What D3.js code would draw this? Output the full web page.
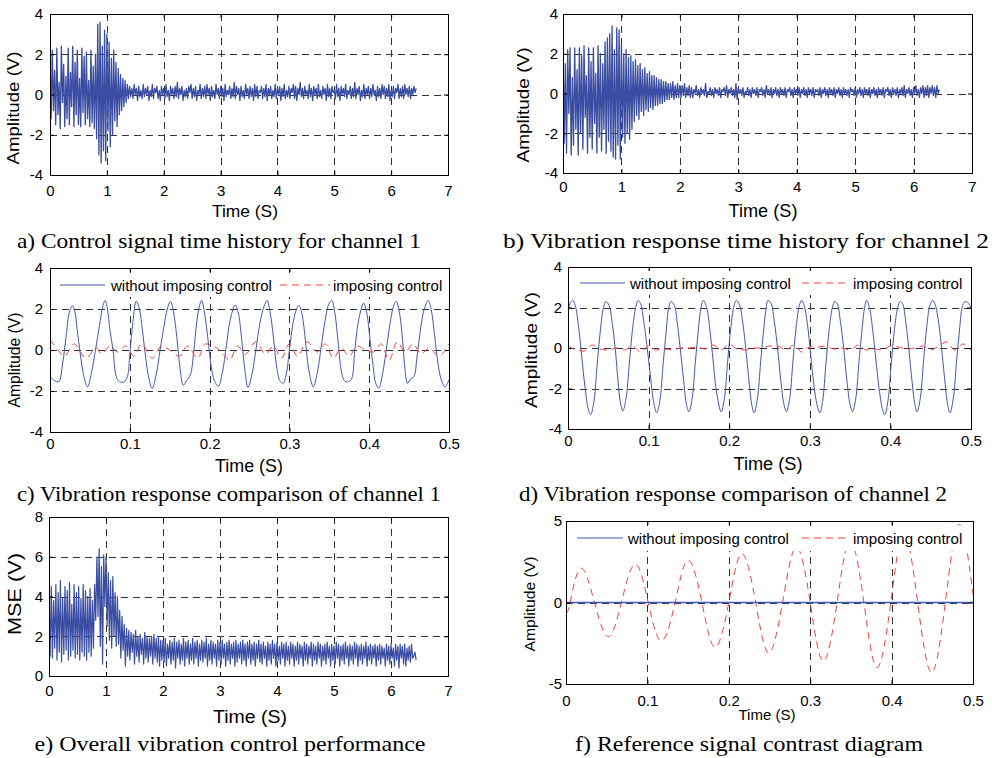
<!DOCTYPE html>
<html>
<head>
<meta charset="utf-8">
<script src="https://cdn.jsdelivr.net/npm/d3@7"></script>
<style>
  body { margin: 0; background: #fff; }
  svg { display: block; background: #fff; }
</style>
</head>
<body>
<svg width="992" height="758"></svg>
<script>
// ---------------- data ----------------
var dtSignal = 0.02; // step between samples of the long records (s)

// a) control signal of channel 1
var ch1Control = [
  1.8,-1.2,2.2,-0.8,1.2,-1.5,2.3,-1.0,0.6,-1.7,
  2.4,-0.4,1.5,-1.6,0.9,-1.2,2.3,-1.5,1.1,-0.6,
  2.4,-1.6,1.6,-1.0,2.2,-1.5,0.8,-1.6,2.3,-0.9,
  1.9,-1.5,2.1,-1.2,0.7,-1.6,2.2,-1.4,1.4,-1.7,
  2.0,-2.2,3.5,-3.0,3.6,-3.4,2.4,-2.8,3.2,-3.3,
  3.0,-1.8,2.6,-2.6,1.8,-2.0,2.2,-1.3,1.6,-1.6,
  1.3,-1.0,1.0,-0.8,0.8,-0.6,0.7,-0.4,0.5,-0.2,
  0.4,-0.1,0.3,-0.2,0.5,0.0,0.3,-0.3,0.4,-0.1,
  0.2,-0.2,0.5,-0.1,0.3,0.0,0.4,-0.3,0.2,-0.1,
  0.5,-0.2,0.3,0.1,0.4,-0.2,0.2,-0.3,0.4,0.0,
  0.3,-0.2,0.5,-0.1,0.2,-0.3,0.4,0.0,0.3,-0.2,
  0.4,-0.1,0.6,-0.2,0.3,0.0,0.4,-0.3,0.2,-0.1,
  0.3,-0.2,0.4,0.1,0.5,-0.2,0.3,-0.1,0.4,-0.3,
  0.2,0.0,0.5,-0.2,0.3,-0.1,0.4,-0.2,0.5,0.0,
  0.3,-0.3,0.4,-0.1,0.2,-0.2,0.5,0.0,0.3,-0.2,
  0.4,-0.1,0.3,-0.3,0.5,-0.1,0.2,0.0,0.4,-0.2,
  0.3,-0.1,0.6,-0.2,0.4,0.0,0.3,-0.3,0.4,-0.1,
  0.2,-0.2,0.5,0.0,0.3,-0.2,0.4,-0.1,0.3,-0.3,
  0.5,-0.1,0.4,-0.2,0.2,0.1,0.4,-0.2,0.3,-0.1,
  0.5,-0.3,0.3,0.0,0.4,-0.2,0.2,-0.1,0.5,-0.2,
  0.3,0.0,0.4,-0.3,0.3,-0.1,0.5,-0.2,0.2,-0.1,
  0.4,-0.2,0.3,0.1,0.5,-0.2,0.4,-0.3,0.3,0.0,
  0.6,-0.1,0.3,-0.2,0.4,0.0,0.2,-0.2,0.5,-0.1,
  0.3,-0.3,0.4,0.0,0.3,-0.2,0.5,-0.1,0.2,-0.2,
  0.4,0.0,0.3,-0.3,0.5,-0.1,0.3,-0.2,0.4,0.1,
  0.2,-0.2,0.5,-0.1,0.3,-0.3,0.4,0.0,0.3,-0.1,
  0.5,-0.2,0.2,0.0,0.4,-0.2,0.3,-0.1,0.6,-0.2,
  0.3,0.0,0.4,-0.3,0.2,-0.1,0.5,-0.2,0.3,0.0,
  0.4,-0.2,0.3,-0.1,0.5,0.0,0.2,-0.3,0.4,-0.1,
  0.3,-0.2,0.5,0.0,0.4,-0.2,0.3,-0.1,0.5,-0.3,
  0.2,-0.1,0.4,-0.2,0.3,0.1,0.5,-0.2,0.3,-0.1,
  0.4,-0.2,0.5,0.0,0.3,-0.1,0.4,-0.2,0.3,0.0,
  0.4,0.1,0.3
];

// b) vibration response of channel 2
var ch2Response = [
  2.3,-2.5,1.5,-3.0,2.2,-1.0,2.3,-3.1,0.8,-2.6,
  2.3,-1.8,1.2,-3.1,2.3,-2.0,1.9,-2.8,2.4,-1.2,
  0.9,-3.0,2.3,-2.2,1.6,-2.8,2.3,-1.5,1.0,-3.0,
  2.4,-2.2,2.0,-2.9,1.5,-1.8,2.6,-3.0,2.8,-2.4,
  3.0,-2.9,3.4,-3.2,2.2,-3.3,3.3,-2.6,3.2,-3.3,
  2.5,-2.2,2.0,-2.5,2.2,-2.0,1.8,-2.3,1.9,-1.8,
  1.6,-1.4,1.7,-1.1,1.4,-1.3,1.5,-0.9,1.2,-1.1,
  1.3,-0.8,1.0,-0.9,1.1,-0.7,0.9,-0.8,0.9,-0.6,
  0.8,-0.6,0.7,-0.5,0.7,-0.5,0.6,-0.4,0.6,-0.3,
  0.5,-0.3,0.5,-0.2,0.6,-0.3,0.4,-0.2,0.5,-0.2,
  0.4,-0.2,0.4,-0.1,0.5,-0.2,0.3,-0.1,0.4,-0.2,
  0.3,-0.2,0.2,0.0,0.4,-0.1,0.2,-0.2,0.3,0.0,
  0.2,-0.1,0.5,-0.2,0.1,0.0,0.3,-0.1,0.2,-0.2,
  0.3,0.0,0.2,-0.1,0.3,-0.2,0.2,0.1,0.3,-0.1,
  0.4,-0.2,0.2,0.0,0.3,-0.1,0.2,-0.2,0.5,-0.3,
  0.3,0.0,0.2,-0.1,0.3,-0.2,0.1,0.0,0.3,-0.1,
  0.2,-0.2,0.3,0.0,0.2,-0.1,0.3,-0.2,0.2,0.1,
  0.3,-0.1,0.2,-0.2,0.4,0.0,0.2,-0.1,0.3,-0.2,
  0.2,0.0,0.3,-0.1,0.2,-0.2,0.3,0.0,0.2,-0.1,
  0.3,-0.2,0.2,0.1,0.3,-0.1,0.2,-0.2,0.3,0.0,
  0.2,-0.1,0.3,-0.2,0.2,0.0,0.3,-0.1,0.2,-0.2,
  0.3,0.0,0.2,-0.1,0.3,-0.2,0.2,0.1,0.2,-0.1,
  0.3,-0.2,0.2,0.0,0.3,-0.1,0.2,-0.2,0.3,0.0,
  0.2,-0.1,0.3,-0.2,0.2,0.0,0.3,-0.1,0.2,-0.2,
  0.3,0.0,0.2,-0.1,0.2,-0.2,0.3,0.1,0.2,-0.1,
  0.3,-0.2,0.2,0.0,0.3,-0.1,0.2,-0.2,0.3,0.0,
  0.2,-0.1,0.3,-0.2,0.2,0.0,0.3,-0.1,0.2,-0.2,
  0.3,0.0,0.2,-0.1,0.3,-0.2,0.2,0.1,0.3,-0.1,
  0.2,-0.2,0.3,0.0,0.2,-0.1,0.3,-0.2,0.2,0.0,
  0.3,-0.1,0.4,-0.2,0.2,0.0,0.3,-0.1,0.2,-0.2,
  0.3,0.0,0.4,-0.1,0.2,-0.2,0.3,0.0,0.4,-0.2,
  0.3,-0.1,0.4,-0.2,0.3,0.0,0.4,-0.1,0.3,-0.2,
  0.4,0.0,0.2
];

// e) overall vibration control performance (MSE)
var overallMSE = [
  4.1,1.0,4.5,0.9,3.8,1.4,4.6,0.8,4.2,1.2,
  4.8,0.7,3.9,1.1,4.5,1.3,4.3,0.8,4.7,1.0,
  3.6,1.3,4.6,0.9,4.2,1.1,4.5,0.8,3.9,1.2,
  4.6,1.0,4.3,0.8,4.0,1.2,4.4,1.0,3.8,1.4,
  4.6,2.8,6.0,3.0,6.4,1.5,5.5,0.6,6.1,3.5,
  6.0,2.5,5.2,1.8,4.8,1.4,5.0,2.0,4.2,1.5,
  4.0,1.6,3.3,0.9,3.0,1.3,2.6,0.5,2.4,1.0,
  2.3,0.8,2.2,1.2,2.1,0.6,2.3,1.0,2.0,0.7,
  2.1,1.1,1.9,0.6,2.2,0.9,2.0,0.7,1.9,1.0,
  2.0,0.6,2.1,0.9,1.9,0.7,2.0,0.5,1.8,0.8,
  1.8,0.7,1.9,0.5,1.6,0.9,1.8,0.6,1.7,0.8,
  1.9,0.4,1.7,0.9,1.8,0.6,1.6,0.8,1.9,0.5,
  1.7,0.9,1.8,0.6,1.6,0.8,1.9,0.6,1.7,0.9,
  1.8,0.5,1.6,0.8,1.8,0.7,1.7,0.9,1.9,0.5,
  1.6,0.8,1.8,0.6,1.7,0.9,1.6,0.5,1.8,0.8,
  1.7,0.6,1.8,0.9,1.6,0.5,1.7,0.8,1.8,0.6,
  1.6,0.9,1.7,0.5,1.8,0.7,1.6,0.9,1.7,0.6,
  1.8,0.8,1.6,0.5,1.7,0.9,1.8,0.6,1.6,0.8,
  1.7,0.5,1.6,0.9,1.8,0.7,1.6,0.6,1.7,0.9,
  1.5,0.5,1.7,0.8,1.6,0.6,1.8,0.9,1.6,0.5,
  1.7,0.8,1.5,0.6,1.7,0.9,1.6,0.5,1.7,0.8,
  1.5,0.6,1.7,0.9,1.6,0.5,1.5,0.8,1.7,0.6,
  1.6,0.9,1.5,0.5,1.7,0.8,1.6,0.6,1.5,0.9,
  1.7,0.5,1.6,0.8,1.5,0.6,1.7,0.9,1.6,0.5,
  1.5,0.8,1.6,0.6,1.7,0.9,1.5,0.5,1.6,0.8,
  1.5,0.6,1.7,0.9,1.6,0.5,1.5,0.8,1.6,0.6,
  1.7,0.9,1.5,0.5,1.6,0.8,1.5,0.6,1.7,0.9,
  1.6,0.5,1.5,0.8,1.6,0.6,1.5,0.9,1.7,0.5,
  1.5,0.8,1.6,0.6,1.5,0.9,1.6,0.5,1.5,0.8,
  1.6,0.6,1.5,0.9,1.4,0.5,1.6,0.8,1.5,0.6,
  1.6,0.9,1.4,0.5,1.6,0.8,1.5,0.4,1.6,0.9,
  1.5,0.6,1.6,0.5,1.4,0.8,1.5,0.7,1.6,0.9,
  1.0,1.2,0.8
];

// c) channel 1 comparison, [time, amplitude]
var c1Without = [
  [0,-1.3],[0.006,-1.5],[0.011,-1.55],[0.016,-0.6],[0.020,0.6],[0.024,1.8],[0.028,2.16],[0.031,1.9],[0.034,1.0],[0.038,-0.2],[0.042,-1.2],[0.047,-1.8],
  [0.052,-1.1],[0.057,0.0],[0.062,1.2],[0.066,2.1],[0.069,2.42],[0.072,2.0],[0.075,1.0],[0.079,0.0],[0.083,-1.3],[0.087,-1.55],[0.093,-1.55],[0.097,-1.3],
  [0.100,-0.2],[0.104,1.4],[0.108,2.37],[0.112,2.0],[0.116,0.9],[0.120,-0.4],[0.124,-1.4],[0.128,-1.88],
  [0.133,-1.2],[0.138,0.0],[0.143,1.2],[0.147,2.0],[0.151,2.37],[0.155,1.8],[0.159,0.6],[0.163,-0.9],[0.167,-1.72],[0.171,-1.5],[0.176,-1.2],
  [0.180,-0.1],[0.184,1.4],[0.187,2.1],[0.190,2.42],[0.194,1.7],[0.198,0.5],[0.202,-0.8],[0.206,-1.5],[0.211,-1.77],
  [0.216,-1.1],[0.221,0.2],[0.226,1.5],[0.232,2.2],[0.236,1.8],[0.240,0.6],[0.244,-0.9],[0.248,-1.83],
  [0.253,-1.2],[0.258,0.0],[0.263,1.3],[0.268,2.1],[0.272,2.42],[0.276,1.8],[0.280,0.6],[0.284,-0.8],[0.288,-1.5],[0.292,-1.63],[0.296,-1.2],
  [0.300,0.0],[0.305,1.4],[0.309,2.0],[0.312,2.18],[0.316,1.7],[0.320,0.5],[0.324,-0.9],[0.330,-1.8],
  [0.335,-1.1],[0.340,0.2],[0.345,1.5],[0.349,2.2],[0.353,2.42],[0.357,1.8],[0.361,0.4],[0.365,-1.0],[0.369,-1.5],[0.374,-1.55],[0.378,-1.4],
  [0.382,0.0],[0.386,1.3],[0.390,2.0],[0.393,2.29],[0.397,1.8],[0.401,0.5],[0.405,-0.8],[0.408,-1.6],[0.412,-1.86],
  [0.417,-1.1],[0.422,0.2],[0.427,1.5],[0.431,2.2],[0.434,2.37],[0.438,1.8],[0.442,0.4],[0.445,-1.0],[0.448,-1.63],[0.452,-1.4],[0.456,-1.3],
  [0.460,-0.3],[0.465,1.2],[0.469,2.0],[0.474,2.42],[0.478,1.9],[0.482,0.7],[0.486,-0.6],[0.490,-1.4],[0.495,-1.8],[0.5,-1.45]
];
var c1With = [
  [0,0.5],[0.008,0.1],[0.018,-0.3],[0.03,0.3],[0.045,-0.4],[0.058,0.1],[0.065,-0.2],[0.075,0.2],[0.085,-0.1],[0.095,0.2],
  [0.105,-0.3],[0.115,0.3],[0.128,-0.4],[0.14,0.2],[0.15,0.0],[0.162,-0.3],[0.172,0.2],[0.185,-0.4],[0.195,0.3],[0.205,0.2],
  [0.215,-0.1],[0.225,-0.5],[0.235,0.2],[0.245,-0.2],[0.258,0.4],[0.27,-0.2],[0.28,0.2],[0.29,-0.4],[0.3,0.3],[0.31,-0.3],
  [0.322,0.4],[0.335,-0.1],[0.345,0.3],[0.355,-0.4],[0.365,0.1],[0.375,-0.3],[0.385,0.2],[0.395,0.0],[0.405,-0.1],[0.415,0.3],
  [0.425,-0.5],[0.435,0.4],[0.445,-0.1],[0.455,0.3],[0.465,-0.2],[0.475,0.1],[0.487,-0.3],[0.5,0.3]
];

// d) channel 2 comparison
var d2Without = [
  [0,1.7],[0.003,2.25],[0.006,2.35],[0.009,2.1],[0.013,1.1],[0.017,-0.4],[0.021,-1.9],[0.025,-3.0],[0.028,-3.3],
  [0.032,-2.7],[0.036,-0.9],[0.040,0.8],[0.044,2.0],[0.047,2.3],[0.051,2.1],[0.055,1.2],[0.059,-0.2],[0.062,-1.6],[0.065,-2.7],[0.068,-3.1],
  [0.072,-2.5],[0.076,-0.8],[0.080,0.9],[0.084,2.0],[0.087,2.35],[0.090,2.2],[0.094,1.3],[0.098,0.1],[0.102,-1.3],[0.106,-2.6],[0.110,-3.2],
  [0.114,-2.6],[0.118,-0.8],[0.122,0.9],[0.125,2.0],[0.128,2.3],[0.132,2.1],[0.136,1.1],[0.140,-0.3],[0.144,-1.8],[0.147,-2.8],[0.150,-3.15],
  [0.154,-2.5],[0.158,-0.7],[0.162,1.0],[0.165,2.0],[0.168,2.35],[0.172,2.0],[0.176,0.9],[0.180,-0.6],[0.184,-2.1],[0.190,-3.15],
  [0.194,-2.5],[0.198,-0.7],[0.202,1.0],[0.206,2.1],[0.209,2.35],[0.213,2.1],[0.217,1.2],[0.221,-0.2],[0.225,-1.8],[0.228,-2.8],[0.231,-3.2],
  [0.235,-2.5],[0.239,-0.7],[0.243,1.0],[0.246,2.0],[0.248,2.35],[0.252,2.2],[0.256,1.3],[0.260,0.0],[0.264,-1.6],[0.268,-2.8],[0.271,-3.15],
  [0.275,-2.5],[0.279,-0.7],[0.283,1.0],[0.287,2.1],[0.290,2.35],[0.293,2.1],[0.297,1.2],[0.301,-0.3],[0.305,-1.8],[0.309,-2.8],[0.3125,-3.2],
  [0.316,-2.6],[0.320,-0.8],[0.324,0.9],[0.328,2.0],[0.331,2.3],[0.334,2.2],[0.338,1.3],[0.342,0.0],[0.346,-1.6],[0.350,-2.8],[0.353,-3.15],
  [0.357,-2.5],[0.361,-0.7],[0.365,1.0],[0.368,2.0],[0.3705,2.35],[0.374,2.0],[0.378,0.9],[0.382,-0.6],[0.386,-2.0],[0.390,-3.0],[0.393,-3.3],
  [0.397,-2.6],[0.401,-0.8],[0.405,0.9],[0.409,2.0],[0.412,2.3],[0.415,2.2],[0.419,1.3],[0.423,-0.1],[0.427,-1.7],[0.430,-2.7],[0.433,-3.15],
  [0.437,-2.5],[0.441,-0.7],[0.445,1.0],[0.449,2.1],[0.4525,2.35],[0.456,2.1],[0.460,1.2],[0.464,-0.2],[0.468,-1.8],[0.471,-2.8],[0.474,-3.2],
  [0.478,-2.5],[0.482,-0.7],[0.486,1.0],[0.489,2.0],[0.4925,2.3],[0.496,2.25],[0.5,2.0]
];
var d2WithStep = 0.01;
var d2With = [
  0.1,-0.1,-0.15,0.15,-0.05,-0.1,0.0,-0.1,0.1,-0.2,
  0.1,-0.1,-0.05,-0.1,0.0,0.0,0.05,-0.05,0.15,-0.1,
  0.2,-0.05,-0.1,0.0,0.0,0.1,0.1,-0.1,0.15,-0.2,
  0.05,0.05,0.1,-0.05,0.0,-0.1,0.15,-0.1,-0.05,-0.1,
  0.1,0.05,-0.05,0.0,0.1,-0.1,0.1,0.3,-0.1,0.2,
  -0.1
];

// f) reference signal contrast
var refWithout = [[0,0],[0.5,0]];
var refWith = [
  [0,-0.65],[0.005,0],[0.018,2.1],[0.035,0],[0.052,-2.1],[0.068,0],[0.085,2.35],[0.101,0],
  [0.117,-2.35],[0.134,0],[0.150,2.6],[0.167,0],[0.183,-2.75],[0.200,0],[0.216,3.0],[0.233,0],
  [0.249,-3.1],[0.266,0],[0.283,3.4],[0.300,0],[0.316,-3.6],[0.333,0],[0.349,3.8],[0.366,0],
  [0.382,-4.0],[0.399,0],[0.415,4.3],[0.432,0],[0.449,-4.3],[0.466,0],[0.483,4.8],[0.5,0.5]
];

// ticks and labels
var longTimeTicks = [0,1,2,3,4,5,6,7];
var longTimeGrid = [1,2,3,4,5,6];
var shortTimeTicks = [0,0.1,0.2,0.3,0.4,0.5];
var shortTimeGrid = [0.1,0.2,0.3,0.4];
var ampTicks = [-4,-2,0,2,4];
var ampGrid = [-2,0,2];
var mseTicks = [0,2,4,6,8];
var mseGrid = [2,4,6];
var refTicks = [-5,0,5];
var refGrid = [0];
var legendNames = ["without imposing control", "imposing control"];
var captions = [
  "a) Control signal time history for channel 1",
  "b) Vibration response time history for channel 2",
  "c) Vibration response comparison of channel 1",
  "d) Vibration response comparison of channel 2",
  "e) Overall vibration control performance",
  "f) Reference signal contrast diagram"
];

// ---------------- drawing ----------------
var svg = d3.select("svg");
var sans = "'Liberation Sans', Arial, Helvetica, sans-serif";
var serif = "'Liberation Serif', 'Times New Roman', serif";
var blueDense = "#3a4da3";
var blueThin = "#4257b5";
var red = "#ff3c3c";
var gridColor = "#333";

function sampled(values, step) {
  return values.map(function(v, i) { return [i * step, v]; });
}

// text that has to fill a measured length (the figure is stretched unevenly)
function fitText(sel, len) {
  if (len) sel.attr("textLength", len).attr("lengthAdjust", "spacingAndGlyphs");
  return sel;
}

function drawPanel(p, idx) {
  var g = svg.append("g");
  var x = d3.scaleLinear().domain(p.xDomain).range([p.left, p.right]);
  var y = d3.scaleLinear().domain(p.yDomain).range([p.bottom, p.top]);

  var clipId = "clip" + idx;
  svg.append("clipPath").attr("id", clipId).append("rect")
    .attr("x", p.left).attr("y", p.top)
    .attr("width", p.right - p.left).attr("height", p.bottom - p.top);

  // dashed grid
  g.selectAll(".vgrid").data(p.xGrid).enter().append("line")
    .attr("x1", function(d) { return Math.round(x(d)) + 0.5; })
    .attr("x2", function(d) { return Math.round(x(d)) + 0.5; })
    .attr("y1", p.top).attr("y2", p.bottom)
    .attr("stroke", gridColor).attr("stroke-dasharray", "7,5");
  g.selectAll(".hgrid").data(p.yGrid).enter().append("line")
    .attr("y1", function(d) { return Math.round(y(d)) + 0.5; })
    .attr("y2", function(d) { return Math.round(y(d)) + 0.5; })
    .attr("x1", p.left).attr("x2", p.right)
    .attr("stroke", gridColor).attr("stroke-dasharray", "7,5");

  // series
  p.series.forEach(function(s) {
    var line = d3.line()
      .x(function(d) { return x(d[0]); })
      .y(function(d) { return y(d[1]); })
      .curve(s.curve || d3.curveLinear);
    g.append("path").datum(s.data)
      .attr("clip-path", "url(#" + clipId + ")")
      .attr("d", line)
      .attr("fill", "none")
      .attr("stroke", s.color)
      .attr("stroke-width", s.width || 1)
      .attr("stroke-linejoin", "round")
      .attr("stroke-dasharray", s.dash || null);
  });

  // legend (white box, no border)
  if (p.legend) {
    var L = p.legend;
    g.append("rect").attr("x", L.x0).attr("y", L.y0)
      .attr("width", L.x1 - L.x0).attr("height", L.y1 - L.y0).attr("fill", "#fff");
    g.append("line").attr("x1", L.s1[0]).attr("x2", L.s1[1]).attr("y1", L.cy).attr("y2", L.cy)
      .attr("stroke", blueThin);
    g.append("text").attr("x", L.t1).attr("y", L.cy + 5.5).text(legendNames[0])
      .attr("font-family", sans).attr("font-size", 15);
    g.append("line").attr("x1", L.s2[0]).attr("x2", L.s2[1]).attr("y1", L.cy).attr("y2", L.cy)
      .attr("stroke", red).attr("stroke-dasharray", "7,5");
    g.append("text").attr("x", L.t2).attr("y", L.cy + 5.5).text(legendNames[1])
      .attr("font-family", sans).attr("font-size", 15);
  }

  // frame
  g.append("rect")
    .attr("x", Math.round(p.left) + 0.5).attr("y", Math.round(p.top) + 0.5)
    .attr("width", Math.round(p.right) - Math.round(p.left))
    .attr("height", Math.round(p.bottom) - Math.round(p.top))
    .attr("fill", "none").attr("stroke", "#000");

  // axes
  var fmt = function(d) { return String(d); };
  var xa = g.append("g").attr("transform", "translate(0," + p.bottom + ")")
    .call(d3.axisBottom(x).tickValues(p.xTicks).tickFormat(fmt)
      .tickSizeInner(-4).tickSizeOuter(0).tickPadding(p.xPad));
  var ya = g.append("g").attr("transform", "translate(" + p.left + ",0)")
    .call(d3.axisLeft(y).tickValues(p.yTicks).tickFormat(fmt)
      .tickSizeInner(-4).tickSizeOuter(0).tickPadding(p.yPad));
  var xt = g.append("g").attr("transform", "translate(0," + p.top + ")")
    .call(d3.axisTop(x).tickValues(p.xTicks).tickFormat("").tickSizeInner(-4).tickSizeOuter(0));
  var yr = g.append("g").attr("transform", "translate(" + p.right + ",0)")
    .call(d3.axisRight(y).tickValues(p.yTicks).tickFormat("").tickSizeInner(-4).tickSizeOuter(0));
  [xa, ya, xt, yr].forEach(function(a) {
    a.select(".domain").remove();
    a.attr("font-family", sans).attr("font-size", 15);
    a.selectAll("text").attr("fill", "#000");
  });

  // axis titles
  fitText(g.append("text").attr("x", p.xLab[0]).attr("y", p.xLab[1])
    .attr("text-anchor", "middle").attr("font-family", sans).attr("font-size", p.xLab[2])
    .text("Time (S)"), p.xLab[3]);
  fitText(g.append("text")
    .attr("transform", "translate(" + p.yLab[0] + "," + p.yLab[1] + ") rotate(-90)")
    .attr("text-anchor", "middle").attr("font-family", sans).attr("font-size", p.yLab[2])
    .text(p.yTitle), p.yLab[3]);

  // caption
  fitText(g.append("text").attr("x", p.cap[0]).attr("y", p.cap[1])
    .attr("text-anchor", "middle").attr("font-family", serif).attr("font-size", p.cap[2])
    .text(captions[idx]), p.cap[3]);
}

var panels = [
  { left: 50, right: 448, top: 14, bottom: 175, xDomain: [0, 7], yDomain: [-4, 4],
    xTicks: longTimeTicks, yTicks: ampTicks, xGrid: longTimeGrid, yGrid: ampGrid, xPad: 10, yPad: 7,
    series: [{ data: sampled(ch1Control, dtSignal), color: blueDense, width: 1.3 }],
    xLab: [245, 217, 17, 66], yLab: [19, 108, 17, 113], yTitle: "Amplitude (V)", cap: [219, 248, 21, 404] },
  { left: 563, right: 972, top: 14, bottom: 173, xDomain: [0, 7], yDomain: [-4, 4],
    xTicks: longTimeTicks, yTicks: ampTicks, xGrid: longTimeGrid, yGrid: ampGrid, xPad: 8, yPad: 5,
    series: [{ data: sampled(ch2Response, dtSignal), color: blueDense, width: 1.3 }],
    xLab: [763, 217, 17.5, 69], yLab: [529, 105, 17, 115], yTitle: "Amplitude (V)", cap: [746, 248, 21, 486] },
  { left: 50, right: 449, top: 268, bottom: 432, xDomain: [0, 0.5], yDomain: [-4, 4],
    xTicks: shortTimeTicks, yTicks: ampTicks, xGrid: shortTimeGrid, yGrid: ampGrid, xPad: 6, yPad: 7,
    series: [
      { data: c1Without, color: blueThin, curve: d3.curveCatmullRom },
      { data: c1With, color: red, dash: "7,5", curve: d3.curveMonotoneX }],
    legend: { x0: 55, x1: 446, y0: 273, y1: 297, cy: 285, s1: [60, 105], t1: 111, s2: [280, 330], t2: 333 },
    xLab: [249, 472, 17.5, 68], yLab: [20, 360, 17, 95], yTitle: "Amplitude (V)", cap: [229, 501, 21, 424] },
  { left: 568, right: 971, top: 267, bottom: 429, xDomain: [0, 0.5], yDomain: [-4, 4],
    xTicks: shortTimeTicks, yTicks: ampTicks, xGrid: shortTimeGrid, yGrid: ampGrid, xPad: 6, yPad: 6,
    series: [
      { data: d2Without, color: blueThin, curve: d3.curveCatmullRom },
      { data: sampled(d2With, d2WithStep), color: red, dash: "7,5", curve: d3.curveMonotoneX }],
    legend: { x0: 572, x1: 968, y0: 271, y1: 295, cy: 283, s1: [580, 625], t1: 630, s2: [802, 847], t2: 853 },
    xLab: [768, 470, 17.5, 69], yLab: [537, 350, 17, 116], yTitle: "Amplitude (V)", cap: [733, 501, 21, 428] },
  { left: 49, right: 448, top: 517, bottom: 676, xDomain: [0, 7], yDomain: [0, 8],
    xTicks: longTimeTicks, yTicks: mseTicks, xGrid: longTimeGrid, yGrid: mseGrid, xPad: 9, yPad: 6,
    series: [{ data: sampled(overallMSE, dtSignal), color: blueDense, width: 1.2 }],
    xLab: [250, 723, 19, 74], yLab: [21, 594, 18, 82], yTitle: "MSE (V)", cap: [230, 751, 21, 391] },
  { left: 566, right: 973, top: 521, bottom: 684, xDomain: [0, 0.5], yDomain: [-5, 5],
    xTicks: shortTimeTicks, yTicks: refTicks, xGrid: shortTimeGrid, yGrid: refGrid, xPad: 11, yPad: 4,
    series: [
      { data: refWith, color: red, dash: "7,5", curve: d3.curveNatural },
      { data: refWithout, color: blueThin, width: 1.3 }],
    legend: { x0: 572, x1: 968, y0: 526, y1: 551, cy: 538, s1: [577, 623], t1: 628, s2: [802, 847], t2: 853 },
    xLab: [767, 720, 15, 57], yLab: [535, 604, 14, 95], yTitle: "Amplitude (V)", cap: [749, 751, 21, 348] }
];

panels.forEach(drawPanel);
</script>
</body>
</html>
